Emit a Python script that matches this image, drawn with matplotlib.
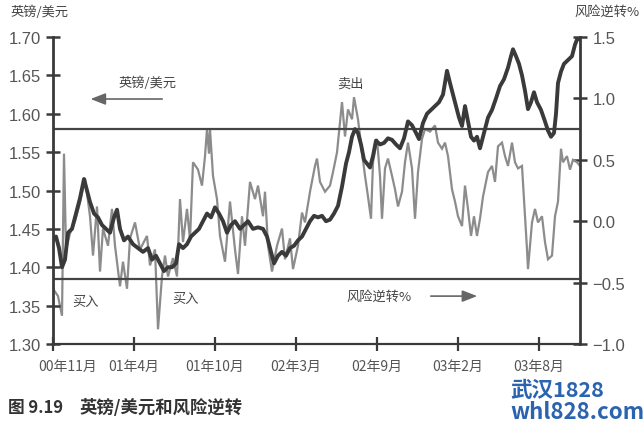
import matplotlib
matplotlib.use('Agg')
import matplotlib.pyplot as plt
from matplotlib.transforms import ScaledTranslation

plt.rcParams['font.family'] = ['Noto Sans CJK SC', 'DejaVu Sans']

# ---------------- data ----------------
tick_labels = ['00年11月', '01年4月', '01年10月', '02年3月', '02年9月', '03年2月', '03年8月']
tick_days = [0, 81, 162, 243, 324, 405, 486]

gbp_days = [0, 3, 6, 9, 12, 15, 19, 23, 27, 31, 34, 37, 41, 45, 49, 53, 57, 61, 64, 67,
            71, 75, 80, 85, 90, 95, 99, 103, 107, 111, 115, 119, 123, 126, 130, 134, 138, 142,
            146, 150, 154, 158, 162, 166, 170, 174, 178, 182, 187, 191, 195, 200, 205, 210,
            214, 218, 221, 225, 229, 233, 237, 241, 245, 249, 253, 257, 261, 265, 269, 273,
            277, 281, 285, 289, 293, 296, 299, 302, 305, 308, 311, 314, 317, 320, 323, 327,
            331, 335, 339, 343, 347, 351, 355, 359, 363, 366, 370, 374, 378, 382, 386, 390,
            394, 397, 400, 403, 406, 409, 412, 415, 418, 421, 424, 427, 431, 435, 439, 443,
            447, 451, 455, 458, 460, 463, 466, 469, 472, 475, 478, 481, 484, 488, 492, 495,
            498, 501, 503, 505, 508, 511, 515, 519, 522, 525, 527]
gbp_usd = [1.435, 1.44, 1.425, 1.40, 1.41, 1.445, 1.45, 1.47, 1.49, 1.515, 1.50, 1.485, 1.47,
           1.465, 1.455, 1.45, 1.445, 1.465, 1.475, 1.45, 1.435, 1.44, 1.43, 1.425, 1.42, 1.425,
           1.41, 1.415, 1.405, 1.395, 1.40, 1.40, 1.405, 1.43, 1.425, 1.43, 1.44, 1.445, 1.45,
           1.46, 1.47, 1.465, 1.478, 1.47, 1.46, 1.445, 1.455, 1.46, 1.45, 1.455, 1.46, 1.45,
           1.452, 1.45, 1.44, 1.42, 1.405, 1.415, 1.42, 1.415, 1.425, 1.428, 1.435, 1.44, 1.45,
           1.46, 1.467, 1.465, 1.467, 1.46, 1.462, 1.47, 1.48, 1.505, 1.535, 1.55, 1.57, 1.58,
           1.575, 1.56, 1.54, 1.535, 1.53, 1.545, 1.565, 1.56, 1.562, 1.568, 1.566, 1.56, 1.555,
           1.568, 1.59, 1.585, 1.575, 1.567, 1.588, 1.60, 1.605, 1.61, 1.615, 1.625, 1.656, 1.64,
           1.625, 1.61, 1.595, 1.584, 1.61, 1.59, 1.57, 1.565, 1.57, 1.555, 1.575, 1.595, 1.605,
           1.62, 1.636, 1.645, 1.66, 1.675, 1.684, 1.675, 1.665, 1.65, 1.63, 1.606, 1.615, 1.628,
           1.615, 1.605, 1.59, 1.578, 1.57, 1.575, 1.60, 1.64, 1.655, 1.665, 1.67, 1.675, 1.69,
           1.70, 1.697]

rr_days = [0, 5, 9, 11, 13, 17, 22, 27, 32, 37, 40, 44, 47, 50, 55, 59, 62, 67, 70, 74, 77, 82,
           87, 94, 97, 102, 105, 109, 112, 115, 120, 124, 127, 130, 134, 137, 140, 145, 149, 152,
           154, 156, 157, 160, 164, 167, 172, 177, 182, 185, 189, 192, 197, 202, 205, 210, 212,
           215, 219, 224, 229, 232, 237, 240, 245, 249, 252, 257, 262, 264, 267, 272, 277, 280,
           284, 289, 292, 295, 299, 301, 305, 309, 312, 315, 318, 320, 324, 327, 329, 332, 335,
           339, 342, 345, 349, 352, 355, 359, 362, 365, 369, 372, 377, 382, 385, 389, 392, 395,
           399, 402, 405, 409, 412, 415, 418, 421, 424, 427, 430, 435, 439, 442, 445, 449, 452,
           455, 459, 462, 465, 469, 472, 474, 475, 479, 482, 485, 489, 492, 495, 499, 502, 505,
           508, 510, 514, 517, 520, 524, 527]
risk_reversal = [-0.55, -0.61, -0.77, 0.55, -0.23, -0.10, 0.0, 0.15, 0.35, 0.04, -0.28, 0.12,
                 -0.41, -0.06, -0.20, 0.10, -0.20, -0.53, -0.33, -0.55, -0.14, -0.01, -0.23,
                 -0.12, -0.36, -0.23, -0.88, -0.45, -0.28, -0.45, -0.30, -0.45, 0.18, -0.17,
                 0.10, -0.15, 0.48, 0.42, 0.29, 0.53, 0.75, 0.55, 0.75, 0.37, 0.18, -0.12, -0.33,
                 0.16, -0.23, -0.43, 0.04, -0.20, 0.32, 0.18, 0.29, 0.04, 0.24, -0.20, -0.41,
                 -0.20, -0.06, -0.31, -0.14, -0.39, -0.20, 0.07, -0.01, 0.24, 0.45, 0.51, 0.32,
                 0.24, 0.29, 0.40, 0.56, 0.97, 0.69, 0.91, 0.83, 1.01, 0.83, 0.56, 0.37, 0.20,
                 0.02, 0.48, 0.67, 0.37, 0.02, 0.43, 0.51, 0.37, 0.26, 0.12, 0.24, 0.48, 0.64,
                 0.43, 0.02, 0.40, 0.67, 0.75, 0.73, 0.78, 0.64, 0.59, 0.64, 0.53, 0.26, 0.16,
                 0.04, -0.04, 0.29, 0.10, -0.12, 0.04, -0.12, 0.02, 0.20, 0.40, 0.45, 0.32, 0.61,
                 0.64, 0.53, 0.45, 0.64, 0.48, 0.43, 0.45, 0.04, -0.23, -0.39, -0.01, 0.10, -0.01,
                 0.04, -0.17, -0.31, -0.28, 0.04, 0.16, 0.59, 0.48, 0.53, 0.42, 0.50, 0.48, 0.45]

sell_level = 0.75
buy_level = -0.47
left_ticks = [1.30, 1.35, 1.40, 1.45, 1.50, 1.55, 1.60, 1.65, 1.70]
right_ticks = [-1.0, -0.5, 0.0, 0.5, 1.0, 1.5]

# ---------------- figure ----------------
W, H = 644, 427
fig = plt.figure(figsize=(W / 100, H / 100), dpi=100)
fig.patch.set_facecolor('white')
ax = fig.add_axes([53 / W, 1 - 345 / H, 527 / W, 307 / H])
ax2 = ax.twinx()

dark = '#3a3a3a'
gray = '#8c8c8c'
spine_c = '#3a3a3a'
label_c = '#555555'

ax2.plot(rr_days, risk_reversal, color=gray, lw=1.6, solid_joinstyle='miter')
ax2.axhline(sell_level, color='#444444', lw=1.6)
ax2.axhline(buy_level, color='#444444', lw=1.6)
ax.plot(gbp_days, gbp_usd, color=dark, lw=2.8)

ax.set_zorder(ax2.get_zorder() + 1)
ax.patch.set_visible(False)

ax.set_xlim(0, 527)
ax.set_ylim(1.30, 1.70)
ax2.set_ylim(-1.0, 1.5)

for s in ['top', 'right']:
    ax.spines[s].set_visible(False)
for s in ['top', 'left', 'bottom']:
    ax2.spines[s].set_visible(False)
ax.spines['left'].set_linewidth(2.0)
ax.spines['left'].set_color(spine_c)
ax.spines['bottom'].set_linewidth(1.6)
ax.spines['bottom'].set_color(spine_c)
ax2.spines['right'].set_linewidth(2.0)
ax2.spines['right'].set_color(spine_c)

ax.set_yticks(left_ticks)
ax.set_yticklabels([f'{v:.2f}' for v in left_ticks], family=['Liberation Sans', 'DejaVu Sans'])
ax2.set_yticks(right_ticks)
ax2.set_yticklabels([f'{v:.1f}'.replace('-', '\u2212') for v in right_ticks],
                    family=['Liberation Sans', 'DejaVu Sans'])
ax.set_xticks(tick_days)
ax.set_xticklabels(tick_labels)

ax.tick_params(axis='y', direction='inout', length=10, width=1.8, color=spine_c,
               labelcolor=label_c, labelsize=12, pad=4)
ax2.tick_params(axis='y', direction='inout', length=10, width=1.8, color=spine_c,
                labelcolor=label_c, labelsize=12, pad=4)
ax.tick_params(axis='x', direction='inout', length=10, width=1.6, color=spine_c,
               labelcolor=label_c, labelsize=10, pad=6)

# shift the first x label to the right as in the reference
first = ax.get_xticklabels()[0]
first.set_transform(first.get_transform() + ScaledTranslation(15 / 100, 0, fig.dpi_scale_trans))

txt_c = '#444444'
fs = 9.5
# axis titles
fig.text(40 / W, 1 - 12 / H, '英镑/美元', ha='center', va='center', fontsize=fs, color=txt_c)
fig.text(607 / W, 1 - 12 / H, '风险逆转%', ha='center', va='center', fontsize=fs, color=txt_c)

# annotations (axes fractions)
ax.text(0.180, 0.853, '英镑/美元', transform=ax.transAxes, ha='center', va='center',
        fontsize=fs, color=txt_c)
ax.annotate('', xy=(0.066, 0.798), xytext=(0.2125, 0.798), xycoords='axes fraction',
            arrowprops=dict(arrowstyle='-|>,head_length=0.9,head_width=0.35', color='#666666',
                            lw=1.2))
ax.text(0.5636, 0.850, '卖出', transform=ax.transAxes, ha='center', va='center',
        fontsize=fs, color=txt_c)
ax.text(0.0626, 0.140, '买入', transform=ax.transAxes, ha='center', va='center',
        fontsize=fs, color=txt_c)
ax.text(0.2524, 0.150, '买入', transform=ax.transAxes, ha='center', va='center',
        fontsize=fs, color=txt_c)
ax.text(0.6186, 0.156, '风险逆转%', transform=ax.transAxes, ha='center', va='center',
        fontsize=fs, color=txt_c)
ax.annotate('', xy=(0.8102, 0.156), xytext=(0.7116, 0.156), xycoords='axes fraction',
            arrowprops=dict(arrowstyle='-|>,head_length=0.9,head_width=0.35', color='#666666',
                            lw=1.2))

# caption
fig.text(8 / W, 1 - 408 / H, '图 9.19', ha='left', va='center',
         fontsize=12, color='#333333', fontweight='bold')
fig.text(80 / W, 1 - 408 / H, '英镑/美元和风险逆转', ha='left', va='center',
         fontsize=12.5, color='#333333', fontweight='bold')

# watermark
fig.text(510 / W, 1 - 391 / H, '武汉1828', ha='left', va='center', fontsize=15.5,
         color='#2a63b0', fontweight='bold')
fig.text(510 / W, 1 - 413 / H, 'whl828.com', ha='left', va='center', fontsize=16,
         color='#2a63b0', fontweight='bold')

fig.savefig('out.png', dpi=100, facecolor='white')
